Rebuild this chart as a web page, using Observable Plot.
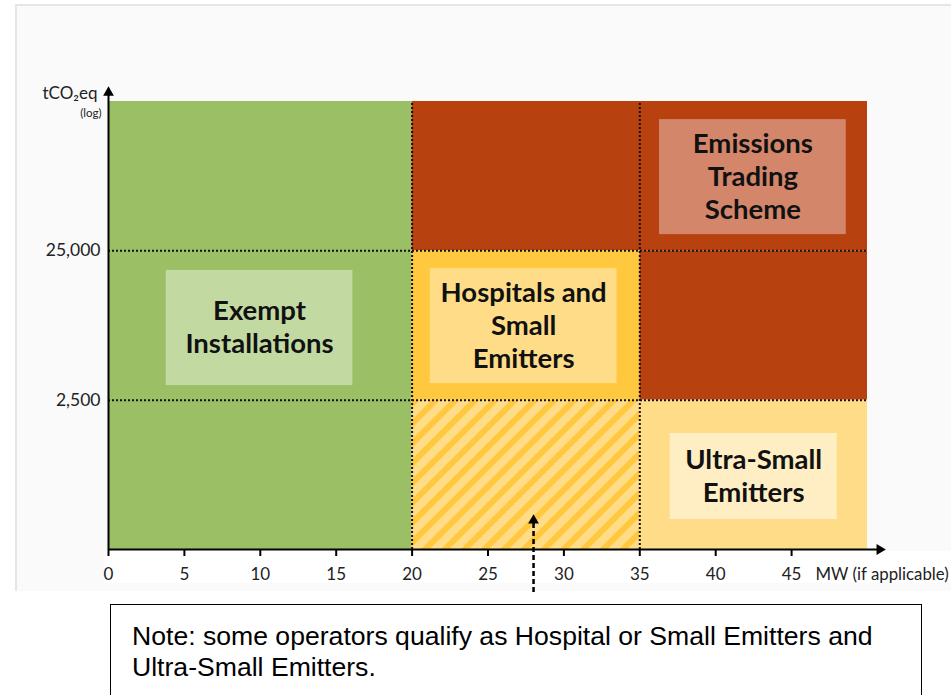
<!DOCTYPE html>
<html><head><meta charset="utf-8">
<script src="https://cdn.jsdelivr.net/npm/d3@7"></script>
<script src="https://cdn.jsdelivr.net/npm/@observablehq/plot@0.6"></script>
<style>
body{margin:0;background:#fff;width:951px;height:695px;overflow:hidden;position:relative;font-family:Lato,sans-serif;}
#panel{position:absolute;left:15px;top:4px;width:936px;height:587px;background:#fafafa;border-top:2px solid #e6e6e6;border-left:2px solid #e6e6e6;box-sizing:border-box;}
#strip{position:absolute;left:104px;top:551px;width:847px;height:32px;background:#fff;}
#chart{position:absolute;left:0;top:0;}
#note{position:absolute;left:110px;top:604px;width:812px;height:120px;border:1.5px solid #000;box-sizing:border-box;padding:16px 0 0 21px;font-family:"Liberation Sans",Arial,sans-serif;font-size:26.6px;line-height:31px;color:#000;white-space:nowrap;}
</style></head>
<body>
<div id="panel"></div><div id="strip"></div><div id="chart"></div>
<div id="note">Note: some operators qualify as Hospital or Small Emitters and<br>Ultra-Small Emitters.</div>
<script>
// ---- data ----
const xTicks = [0, 5, 10, 15, 20, 25, 30, 35, 40, 45];
const yTicks = [2500, 25000];
const mwThresholds = [20, 35];
const co2Thresholds = [2500, 25000];
const xDomain = [0, 50];
const yDomain = [250, 250000];
const xAxisEnd = 50.8;
const yAxisEnd = 287000;

const zoneCategory = ["Exempt", "ETS", "ETS", "Hospitals", "Overlap", "Ultra"];
const zoneMW1 = [0, 20, 35, 20, 20, 35];
const zoneMW2 = [20, 50, 50, 35, 35, 50];
const zoneCO2low = [250, 25000, 2500, 2500, 250, 250];
const zoneCO2high = [250000, 250000, 25000, 25000, 2500, 2500];

const labelCategory = ["Exempt", "ETS", "Hospitals", "Ultra"];
const labelText = ["Exempt\nInstallations", "Emissions\nTrading\nScheme", "Hospitals and\nSmall\nEmitters", "Ultra-Small\nEmitters"];
const labelMW1 = [3.8, 36.3, 21.2, 37.0];
const labelMW2 = [16.1, 48.6, 33.5, 48.0];
const labelCO2low = [3130, 32100, 3230, 397];
const labelCO2high = [18500, 189000, 19000, 1495];

const noteArrowMW = 28;
const noteArrowHead = 391;
const noteArrowTail = 129;

const xAxisTitle = "MW (if applicable)";
const yAxisTitle = "tCO\u2082eq";
const yAxisSub = "(log)";

// ---- styles ----
const zoneColors = {Exempt: "#9bbf64", ETS: "#b7410f", Hospitals: "#ffc83f", Overlap: "#ffdd88", Ultra: "#ffdd88"};
const boxColors = {Exempt: "#c2daa2", ETS: "#d4866b", Hospitals: "#ffdd88", Ultra: "#ffeec4"};

const zones = zoneCategory.map((c, i) => ({category: c, x1: zoneMW1[i], x2: zoneMW2[i], y1: zoneCO2low[i], y2: zoneCO2high[i]}));
const labels = labelCategory.map((c, i) => ({category: c, text: labelText[i], x1: labelMW1[i], x2: labelMW2[i], y1: labelCO2low[i], y2: labelCO2high[i]}));
const overlap = zones.filter(d => d.category === "Overlap");

const chart = Plot.plot({
  width: 951, height: 592,
  marginLeft: 108, marginRight: 84, marginTop: 101, marginBottom: 43,
  x: {domain: xDomain},
  y: {type: "log", domain: yDomain},
  style: {fontFamily: "Lato, sans-serif", background: "transparent", overflow: "visible"},
  marks: [
    Plot.rect(zones, {x1: "x1", x2: "x2", y1: "y1", y2: "y2", fill: d => zoneColors[d.category]}),
    Plot.rect(overlap, {x1: "x1", x2: "x2", y1: "y1", y2: "y2", fill: "url(#hatch)"}),
    Plot.ruleY(co2Thresholds, {x1: xDomain[0], x2: xDomain[1], stroke: "#111", strokeWidth: 2, strokeDasharray: "2,2"}),
    Plot.ruleX(mwThresholds, {y1: yDomain[0], y2: yDomain[1], stroke: "#111", strokeWidth: 2, strokeDasharray: "2,2"}),
    Plot.rect(labels, {x1: "x1", x2: "x2", y1: "y1", y2: "y2", fill: d => boxColors[d.category]}),
    Plot.text(labels, {x: d => (d.x1 + d.x2) / 2, y: d => Math.sqrt(d.y1 * d.y2), text: "text", dy: -2, fontSize: 27.5, fontWeight: "bold", lineHeight: 1.2, fill: "#111"}),
    // axes lines
    Plot.ruleY([yDomain[0]], {x1: xDomain[0], x2: xAxisEnd, stroke: "#000", strokeWidth: 2}),
    Plot.ruleX([xDomain[0]], {y1: yDomain[0], y2: yAxisEnd, stroke: "#000", strokeWidth: 2}),
    Plot.dot([0], {x: xAxisEnd, y: yDomain[0], symbol: "triangle", rotate: 90, r: 4, fill: "#000", stroke: null}),
    Plot.dot([0], {x: xDomain[0], y: yAxisEnd, symbol: "triangle", r: 4, fill: "#000", stroke: null}),
    Plot.axisX(xTicks, {tickSize: 7, tickPadding: 11, strokeWidth: 2, stroke: "#000", fill: "#222", fontSize: 17, label: null, tickFormat: d => String(d)}),
    Plot.axisY(yTicks, {tickSize: 0, tickPadding: 8, fill: "#222", fontSize: 17.5, label: null, tickFormat: d3.format(",")}),
    Plot.text([xAxisTitle], {x: xDomain[1], y: yDomain[0], text: d => d, textAnchor: "start", dx: -52, dy: 25, fontSize: 16.8, fill: "#222"}),
    Plot.text([yAxisTitle], {x: xDomain[0], y: yDomain[1], text: d => d, textAnchor: "end", dx: -11, dy: -8, fontSize: 17, fill: "#222"}),
    Plot.text([yAxisSub], {x: xDomain[0], y: yDomain[1], text: d => d, textAnchor: "end", dx: -7, dy: 12, fontSize: 11.5, fill: "#222"}),
    // note arrow
    Plot.ruleX([noteArrowMW], {y1: noteArrowTail, y2: noteArrowHead, stroke: "#000", strokeWidth: 2.5, strokeDasharray: "5,3"}),
    Plot.dot([0], {x: noteArrowMW, y: noteArrowHead, symbol: "triangle", r: 4, fill: "#000", stroke: null})
  ]
});

const ns = "http://www.w3.org/2000/svg";
const defs = document.createElementNS(ns, "defs");
defs.innerHTML = '<pattern id="hatch" patternUnits="userSpaceOnUse" width="14" height="14" patternTransform="rotate(45)"><rect x="0" y="0" width="6" height="14" fill="#ffc83f"></rect></pattern>';
chart.insertBefore(defs, chart.firstChild);
document.getElementById("chart").appendChild(chart);
</script>
</body></html>
